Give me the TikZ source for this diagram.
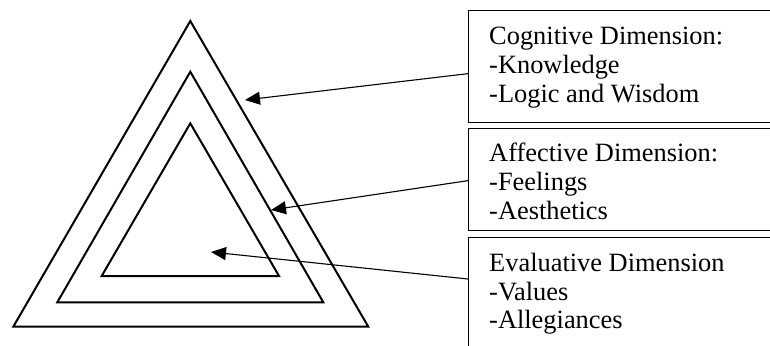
\documentclass[tikz,border=0pt]{standalone}
\usepackage{fontspec}
\setmainfont{Liberation Serif}
\usetikzlibrary{arrows.meta}
\begin{document}
\begin{tikzpicture}[x=1pt,y=-1pt,
  tri/.style={line width=2pt,line join=miter},
  dimbox/.style={draw,line width=1.3pt,rectangle,anchor=north west,minimum width=320pt,inner sep=0pt},
  dimtext/.style={anchor=north west,inner sep=0pt,align=left,font=\fontsize{26.4}{28.7}\selectfont},
  pointer/.style={line width=1.1pt,-{Triangle[length=15pt,width=13pt]}}]
\useasboundingbox (0,0) rectangle (770,345);
% triangles
\draw[tri] (190.3,21) -- (13.3,326.7) -- (368.3,326.7) -- cycle;
\draw[tri] (190.3,71.7) -- (57.3,302.3) -- (323.3,302.3) -- cycle;
\draw[tri] (190.3,123.3) -- (101.7,276) -- (279,276) -- cycle;
% boxes
\node[dimbox,minimum height=112pt] (b1) at (468,10) {};
\node[dimbox,minimum height=102pt] (b2) at (468,128) {};
\node[dimbox,minimum height=120pt] (b3) at (468,237) {};
% texts
\node[dimtext] (t1) at (489,27) {Cognitive Dimension:\\-Knowledge\\-Logic and Wisdom};
\node[dimtext] (t2) at (489,143) {Affective Dimension:\\-Feelings\\-Aesthetics};
\node[dimtext] (t3) at (489,253) {Evaluative Dimension\\-Values\\-Allegiances};
% arrow tips
\coordinate (p1) at (245,100);
\coordinate (p2) at (271,210);
\coordinate (p3) at (211,252);
\draw[pointer] ([yshift=-7pt]b1.west) -- (p1);
\draw[pointer] ([yshift=-1pt]b2.west) -- (p2);
\draw[pointer] (b3.north west |- 0,279) -- (p3);
\end{tikzpicture}
\end{document}
